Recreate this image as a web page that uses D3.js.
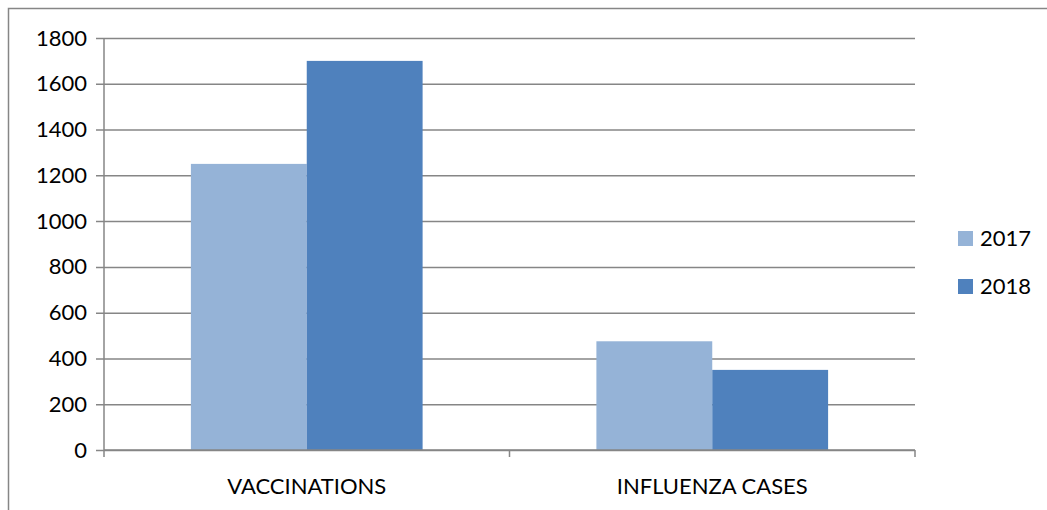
<!DOCTYPE html>
<html>
<head>
<meta charset="utf-8">
<script src="https://cdn.jsdelivr.net/npm/d3@7"></script>
<style>
  body { margin: 0; background: #fff; }
  svg text { font-family: Lato, "Open Sans", sans-serif; fill: #000; }
</style>
</head>
<body>
<svg id="chart" width="1047" height="510"></svg>
<script>
var categories = ["VACCINATIONS", "INFLUENZA CASES"];
var years = ["2017", "2018"];
var values2017 = [1250, 475];
var values2018 = [1700, 350];
var yTicks = [0, 200, 400, 600, 800, 1000, 1200, 1400, 1600, 1800];
var colors = ["#95B3D7", "#4F81BD"];

var svg = d3.select("#chart");

// outer chart frame (cut off at right and bottom)
svg.append("rect")
  .attr("x", 8.5).attr("y", 8.5)
  .attr("width", 1100).attr("height", 600)
  .attr("fill", "none")
  .attr("stroke", "#868686")
  .attr("stroke-width", 1.5);

var plotLeft = 104, plotRight = 915, plotTop = 38, plotBottom = 450;

var x = d3.scaleBand()
  .domain(categories)
  .range([plotLeft, plotRight]);

var y = d3.scaleLinear()
  .domain([0, 1800])
  .range([plotBottom, plotTop]);

// inner band for the two series (Excel gap width 150%)
var bw = x.bandwidth() / 3.5;
var xs = d3.scaleBand()
  .domain(years)
  .range([bw * 0.75, bw * 2.75]);

// gridlines + y axis
var yAxis = d3.axisLeft(y)
  .tickValues(yTicks)
  .tickSize(-(plotRight - plotLeft))
  .tickPadding(17)
  .tickFormat(d3.format("d"));

var gy = svg.append("g")
  .attr("transform", "translate(" + plotLeft + ",0)")
  .call(yAxis);
gy.select(".domain").remove();
gy.selectAll(".tick line")
  .attr("x1", -8)
  .attr("stroke", "#868686")
  .attr("stroke-width", 1.5);
gy.selectAll(".tick text")
  .attr("font-size", "22px")
  .attr("font-family", "Lato, sans-serif");

// bars
var series = [values2017, values2018];
years.forEach(function (yr, s) {
  svg.append("g")
    .selectAll("rect")
    .data(categories)
    .enter()
    .append("rect")
    .attr("x", function (c) { return x(c) + xs(yr); })
    .attr("y", function (c, i) { return y(series[s][i]); })
    .attr("width", xs.bandwidth())
    .attr("height", function (c, i) { return plotBottom - y(series[s][i]); })
    .attr("fill", colors[s]);
});

// category axis
var xAxis = d3.axisBottom(x).tickSize(0).tickPadding(28);
var gx = svg.append("g")
  .attr("transform", "translate(0," + plotBottom + ")")
  .call(xAxis);
gx.select(".domain")
  .attr("stroke", "#868686")
  .attr("stroke-width", 1.5)
  .attr("d", "M" + plotLeft + ",0H" + plotRight);
gx.selectAll(".tick text")
  .attr("font-size", "22px")
  .attr("font-family", "Lato, sans-serif");

// value axis line + category separator ticks
var seps = [plotLeft].concat(categories.map(function (c) { return x(c) + x.bandwidth(); }));
svg.append("g")
  .selectAll("line")
  .data(seps)
  .enter()
  .append("line")
  .attr("x1", function (d) { return d; })
  .attr("x2", function (d) { return d; })
  .attr("y1", function (d, i) { return i === 0 ? plotTop : plotBottom; })
  .attr("y2", plotBottom + 7)
  .attr("stroke", "#868686")
  .attr("stroke-width", 1.5);

// legend
var legend = svg.append("g")
  .selectAll("g")
  .data(years)
  .enter()
  .append("g")
  .attr("transform", function (d, i) { return "translate(958," + (231 + i * 48) + ")"; });
legend.append("rect")
  .attr("width", 15).attr("height", 15)
  .attr("fill", function (d, i) { return colors[i]; });
legend.append("text")
  .attr("x", 22).attr("y", 15)
  .attr("font-size", "22px")
  .text(function (d) { return d; });
</script>
</body>
</html>
